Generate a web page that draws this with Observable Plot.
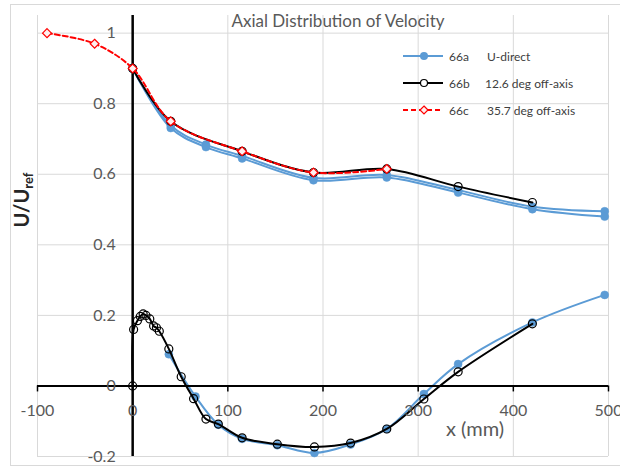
<!DOCTYPE html>
<html>
<head>
<meta charset="utf-8">
<script src="https://cdn.jsdelivr.net/npm/d3@7"></script>
<script src="https://cdn.jsdelivr.net/npm/@observablehq/plot@0.6"></script>
<style>
  html, body { margin: 0; padding: 0; background: #fff; }
  #wrap { position: relative; width: 620px; height: 468px; overflow: hidden; font-family: Lato, "Open Sans", sans-serif; }
  #wrap svg { position: absolute; left: 0; top: 0; }
  .border { position: absolute; left: 10px; top: 4px; width: 700px; height: 460px; border: 1px solid #d9d9d9; }
  .title { position: absolute; left: 338px; top: 20px; transform: translate(-50%, -50%); font-size: 17px; color: #595959; white-space: nowrap; }
  .xlabel { position: absolute; left: 475px; top: 428px; transform: translate(-50%, -50%); font-size: 20px; color: #595959; white-space: nowrap; }
  .ylabel { position: absolute; left: 22px; top: 200px; transform: translate(-50%, -50%) rotate(-90deg); font-size: 20px; font-weight: bold; color: #262626; white-space: nowrap; }
  .ylabel sub { font-size: 13px; font-weight: bold; vertical-align: -4px; }
  .legend { position: absolute; left: 403px; top: 46px; font-size: 12px; color: #404040; }
  .legend .row { position: relative; height: 27px; white-space: nowrap; }
  .legend svg { position: static !important; vertical-align: middle; }
  .legend .code { position: absolute; left: 46px; top: 3px; }
  .legend .desc { position: absolute; top: 3px; }
</style>
</head>
<body>
<div id="wrap"></div>
<script>
// ---- data ----
const xTicks = [-100, 0, 100, 200, 300, 400, 500];
const yTicks = [-0.2, 0, 0.2, 0.4, 0.6, 0.8, 1];
const yTickLabels = ["-0.2", "0", "0.2", "0.4", "0.6", "0.8", "1"];

// 66a U-direct (blue): upper branch drawn as a doubled pair of traces
const blueUpX = [0, 40, 77, 115, 190, 267, 342, 420, 496];
const blueUpAY = [0.9, 0.738, 0.684, 0.652, 0.59, 0.598, 0.555, 0.508, 0.495];
const blueUpBY = [0.9, 0.731, 0.677, 0.645, 0.583, 0.591, 0.548, 0.501, 0.48];
const blueLowX = [38, 66, 90, 115, 152, 191, 229, 267, 306, 342, 420, 496];
const blueLowY = [0.09, -0.03, -0.11, -0.15, -0.168, -0.19, -0.166, -0.122, -0.023, 0.062, 0.18, 0.258];

// 66b 12.6 deg off-axis (black)
const blackUpX = [0, 40, 115, 190, 267, 342, 420];
const blackUpY = [0.9, 0.75, 0.665, 0.605, 0.615, 0.565, 0.52];
const blackLowX = [0, 1, 5, 8, 11, 14, 18, 22, 25, 28, 38, 51, 64, 77, 90, 115, 152, 191, 229, 267, 306, 342, 420];
const blackLowY = [0, 0.16, 0.185, 0.197, 0.204, 0.2, 0.19, 0.17, 0.165, 0.155, 0.105, 0.026, -0.036, -0.094, -0.108, -0.147, -0.165, -0.173, -0.162, -0.122, -0.037, 0.04, 0.176];

// 66c 35.7 deg off-axis (red)
const redX = [-90, -40, 0, 40, 115, 190, 267];
const redY = [1.0, 0.97, 0.9, 0.75, 0.665, 0.605, 0.615];

const legendItems = [
  {code: "66a", desc: "U-direct", descLeft: 84},
  {code: "66b", desc: "12.6 deg off-axis", descLeft: 82},
  {code: "66c", desc: "35.7 deg off-axis", descLeft: 84}
];

// ---- build ----
const pts = (xs, ys) => xs.map((x, i) => ({x, y: ys[i]}));
const blueA = pts(blueUpX, blueUpAY);
const blueB = pts(blueUpX, blueUpBY);
const blueL = pts(blueLowX, blueLowY);
const blackU = pts(blackUpX, blackUpY);
const blackL = pts(blackLowX, blackLowY);
const red = pts(redX, redY);

const BLUE = "#5B9BD5";
const curve = "catmull-rom";

const chart = Plot.plot({
  width: 620,
  height: 468,
  marginLeft: 37,
  marginRight: 12,
  marginTop: 15,
  marginBottom: 12,
  x: {domain: [-100, 500], axis: null},
  y: {domain: [-0.2, 1.05], axis: null},
  style: {fontFamily: "Lato, 'Open Sans', sans-serif"},
  marks: [
    Plot.ruleX(xTicks, {stroke: "#d9d9d9", strokeWidth: 1}),
    Plot.ruleY(yTicks, {stroke: "#d9d9d9", strokeWidth: 1}),
    // blue
    Plot.line(blueA, {x: "x", y: "y", curve, stroke: BLUE, strokeWidth: 2}),
    Plot.line(blueB, {x: "x", y: "y", curve, stroke: BLUE, strokeWidth: 2}),
    Plot.line(blueL, {x: "x", y: "y", curve, stroke: BLUE, strokeWidth: 2}),
    Plot.dot(blueA, {x: "x", y: "y", r: 4, fill: BLUE, stroke: BLUE, strokeWidth: 0.5}),
    Plot.dot(blueB, {x: "x", y: "y", r: 4, fill: BLUE, stroke: BLUE, strokeWidth: 0.5}),
    Plot.dot(blueL, {x: "x", y: "y", r: 4, fill: BLUE, stroke: BLUE, strokeWidth: 0.5}),
    // axes lines
    Plot.ruleY([0], {stroke: "#000", strokeWidth: 2}),
    Plot.ruleX(xTicks, {x: d => d, y1: 0, y2: 0, insetBottom: -6, stroke: "#000", strokeWidth: 1.5}),
    Plot.ruleX([0], {stroke: "#000", strokeWidth: 2.5}),
    // black
    Plot.line(blackU, {x: "x", y: "y", curve, stroke: "#000", strokeWidth: 2}),
    Plot.line(blackL, {x: "x", y: "y", curve, stroke: "#000", strokeWidth: 2}),
    Plot.dot(blackU, {x: "x", y: "y", r: 4, fill: "none", stroke: "#000", strokeWidth: 1.2}),
    Plot.dot(blackL, {x: "x", y: "y", r: 4, fill: "none", stroke: "#000", strokeWidth: 1.2}),
    // red
    Plot.line(red, {x: "x", y: "y", curve, stroke: "#FF0000", strokeWidth: 2, strokeDasharray: "5,3"}),
    Plot.dot(red, {x: "x", y: "y", r: 4, symbol: "diamond2", fill: "#fff0f0", stroke: "#FF0000", strokeWidth: 1.2}),
    // tick labels
    Plot.text(xTicks, {x: d => d, y: 0, text: d => String(d), dy: 25, fontSize: 16, fill: "#595959"}),
    Plot.text(yTicks, {x: 0, y: d => d, text: (d, i) => yTickLabels[i], dx: -17, textAnchor: "end", fontSize: 16, fill: "#595959"})
  ]
});

const wrap = document.getElementById("wrap");
const border = document.createElement("div");
border.className = "border";
wrap.appendChild(border);
wrap.appendChild(chart);

const title = document.createElement("div");
title.className = "title";
title.textContent = "Axial Distribution of Velocity";
wrap.appendChild(title);

const xl = document.createElement("div");
xl.className = "xlabel";
xl.textContent = "x (mm)";
wrap.appendChild(xl);

const yl = document.createElement("div");
yl.className = "ylabel";
yl.innerHTML = "U/U<sub>ref</sub>";
wrap.appendChild(yl);

// legend
const leg = document.createElement("div");
leg.className = "legend";
const swatches = [
  `<svg width="42" height="20"><line x1="0" y1="10" x2="40" y2="10" stroke="${BLUE}" stroke-width="2"/><circle cx="21" cy="10" r="4" fill="${BLUE}"/></svg>`,
  `<svg width="42" height="20"><line x1="0" y1="10" x2="40" y2="10" stroke="#000" stroke-width="2"/><circle cx="21" cy="10" r="3.5" fill="#fff" stroke="#000" stroke-width="1.2"/></svg>`,
  `<svg width="42" height="20"><line x1="0" y1="10" x2="40" y2="10" stroke="#FF0000" stroke-width="2" stroke-dasharray="5,3"/><path d="M21,6 L25,10 L21,14 L17,10 Z" fill="#fff0f0" stroke="#FF0000" stroke-width="1.2"/></svg>`
];
legendItems.forEach((it, i) => {
  const row = document.createElement("div");
  row.className = "row";
  row.innerHTML = swatches[i] + `<span class="code">${it.code}</span><span class="desc" style="left:${it.descLeft}px">${it.desc}</span>`;
  leg.appendChild(row);
});
wrap.appendChild(leg);
</script>
</body>
</html>
